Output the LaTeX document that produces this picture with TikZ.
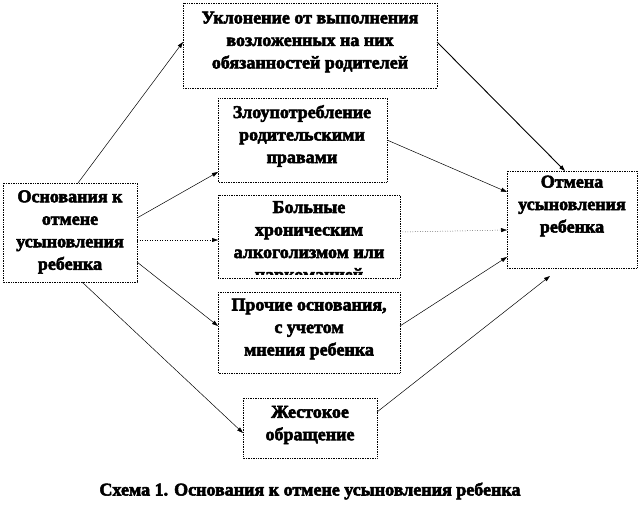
\documentclass[tikz,border=0pt]{standalone}
\usepackage{fontspec}
\setmainfont{Liberation Serif}[BoldFeatures={FakeBold=3}]
\usetikzlibrary{arrows.meta}
\begin{document}
\begin{tikzpicture}[x=1pt,y=-1pt,
  box/.style={draw=black,densely dotted,line width=0.7pt,fill=white},
  txt/.style={font=\bfseries\fontsize{18}{22.5}\selectfont,align=center,inner sep=0pt},
  conn/.style={-{Triangle[length=6pt,width=4pt]},line width=0.5pt},
  dconn/.style={conn,dotted}]
\useasboundingbox (0,0) rectangle (642,513);
% boxes
\draw[box] (3,183) rectangle (137,282);
\node (L) [txt] at (70,232) {Основания к\\отмене\\усыновления\\ребенка};
\coordinate (Ltop) at (78,183);
\coordinate (Lr1) at (137,218);
\coordinate (Lr2) at (137,240);
\coordinate (Lr3) at (137,262);
\coordinate (Lbot) at (82,282);

\draw[box] (183,3) rectangle (437,88);
\node (T) [txt] at (310,42) {Уклонение от выполнения\\возложенных на них\\обязанностей родителей};
\coordinate (Tl) at (183,42);
\coordinate (Tr) at (437,42);

\draw[box] (218,98) rectangle (387,182);
\node (Z) [txt] at (302,136) {Злоупотребление\\родительскими\\правами};
\coordinate (Zl) at (218,172);
\coordinate (Zr) at (387,140);

\draw[box] (218,195) rectangle (400,278);
\begin{scope}
\clip (218.5,195.5) rectangle (399.5,274);
\node (B) [txt,anchor=north] at (309,201) {Больные\\хроническим\\алкоголизмом или\\наркоманией};
\end{scope}
\coordinate (Bl) at (218,240);
\coordinate (Br) at (400,232);

\draw[box] (218,292) rectangle (400,373);
\node (P) [txt] at (309,329) {Прочие основания,\\с учетом\\мнения ребенка};
\coordinate (Pl) at (218,326);
\coordinate (Pr) at (400,326);

\draw[box] (243,398) rectangle (377,458);
\node (Zh) [txt] at (310,425) {Жестокое\\обращение};
\coordinate (Zhl) at (243,433);
\coordinate (Zhr) at (377,412);

\draw[box] (507,171) rectangle (637,268);
\node (O) [txt] at (572,206) {Отмена\\усыновления\\ребенка};
\coordinate (Ot) at (565,171);
\coordinate (Ol1) at (507,192);
\coordinate (Ol2) at (507,230);
\coordinate (Ol3) at (507,257);
\coordinate (Ob) at (550,276);

% connectors
\draw[conn] (Ltop) -- (Tl);
\draw[conn] (Lr1) -- (Zl);
\draw[dconn] (Lr2) -- (Bl);
\draw[conn] (Lr3) -- (Pl);
\draw[conn] (Lbot) -- (Zhl);
\draw[conn,line width=0.9pt] (Tr) -- (Ot);
\draw[conn] (Zr) -- (Ol1);
\draw[dconn] (Br) -- (Ol2);
\draw[conn] (Pr) -- (Ol3);
\draw[conn] (Zhr) -- (Ob);

\node (cap) [txt,font=\bfseries\fontsize{18}{20}\selectfont] at (310,491) {Схема 1. Основания к отмене усыновления ребенка};
\end{tikzpicture}
\end{document}
